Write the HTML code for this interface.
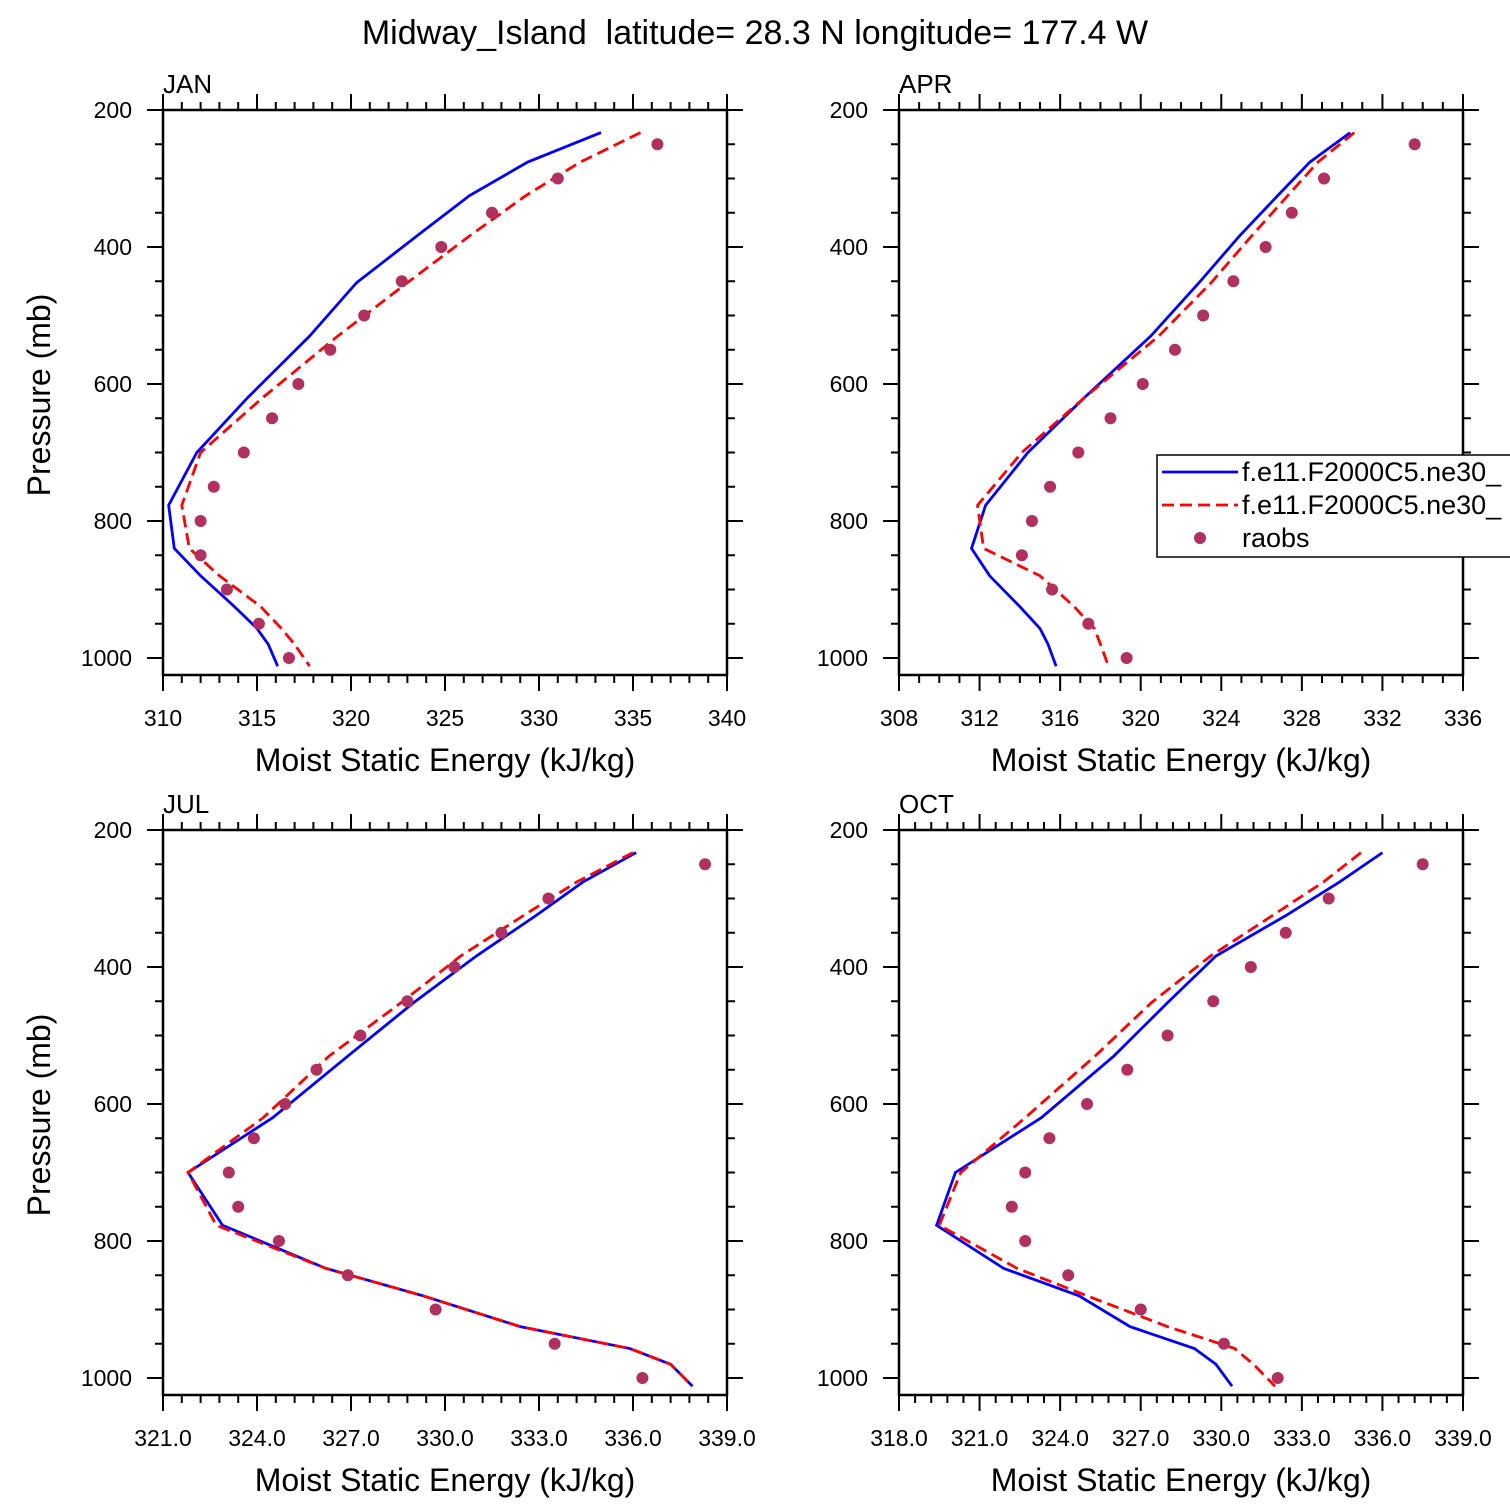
<!DOCTYPE html>
<html><head><meta charset="utf-8"><style>
body{margin:0;background:#fff}
svg{display:block;font-family:"Liberation Sans",sans-serif}
</style></head><body>
<svg id="fig" width="1510" height="1510" viewBox="0 0 1510 1510">
<text x="755" y="44" font-size="34" text-anchor="middle" style="white-space:pre">Midway_Island  latitude= 28.3 N longitude= 177.4 W</text>
</svg>
<script>
const levels=[233,276,325,384,452,530,620,700,777,840,880,925,957,980,1012];
const obsLevels=[250,300,350,400,450,500,550,600,650,700,750,800,850,900,950,1000];
const janBlue=[333.3,329.4,326.3,323.5,320.3,317.8,314.5,311.8,310.3,310.6,312.0,313.8,315.0,315.6,316.1];
const janRed=[335.4,332.2,329.3,326.3,323.0,319.3,315.3,312.0,311.0,311.4,313.0,315.2,316.3,317.0,317.8];
const janObs=[336.3,331.0,327.5,324.8,322.7,320.7,318.9,317.2,315.8,314.3,312.7,312.0,312.0,313.4,315.1,316.7];
const aprBlue=[330.4,328.4,326.8,324.9,322.9,320.5,317.2,314.4,312.3,311.6,312.5,314.0,315.0,315.4,315.8];
const aprRed=[330.6,328.8,327.3,325.5,323.5,320.9,317.2,314.1,311.9,312.2,315.0,316.7,317.7,318.0,318.4];
const aprObs=[333.6,329.1,327.5,326.2,324.6,323.1,321.7,320.1,318.5,316.9,315.5,314.6,314.1,315.6,317.4,319.3];
const julBlue=[336.1,334.4,332.9,331.0,329.0,326.9,324.5,321.8,322.9,326.2,329.3,332.4,335.9,337.2,337.9];
const julRed=[336.0,334.2,332.5,330.5,328.6,326.3,324.2,321.8,322.7,326.2,329.3,332.4,335.9,337.2,337.9];
const julObs=[338.3,333.3,331.8,330.3,328.8,327.3,325.9,324.9,323.9,323.1,323.4,324.7,326.9,329.7,333.5,336.3];
const octBlue=[336.0,334.4,332.4,329.8,328.0,326.0,323.3,320.1,319.4,321.9,324.7,326.6,329.0,329.8,330.4];
const octRed=[335.2,333.8,331.9,329.6,327.4,325.3,322.7,320.3,319.5,322.4,325.0,328.0,330.5,331.2,332.0];
const octObs=[337.5,334.0,332.4,331.1,329.7,328.0,326.5,325.0,323.6,322.7,322.2,322.7,324.3,327.0,330.1,332.1];
const yTicks=[200,400,600,800,1000];
const janX=[310,315,320,325,330,335,340];
const aprX=[308,312,316,320,324,328,332,336];
const julX=[321,324,327,330,333,336,339];
const octX=[318,321,324,327,330,333,336,339];

const NS="http://www.w3.org/2000/svg";
const svg=document.getElementById('fig');
function mk(tag,attrs,parent){const e=document.createElementNS(NS,tag);for(const k in attrs)e.setAttribute(k,attrs[k]);(parent||svg).appendChild(e);return e;}

const panels=[
 {name:'jan',label:'JAN',x0:163,y0:110,xt:janX,minor:5,dec:0,blue:janBlue,red:janRed,obs:janObs,ylab:true},
 {name:'apr',label:'APR',x0:899,y0:110,xt:aprX,minor:4,dec:0,blue:aprBlue,red:aprRed,obs:aprObs,ylab:false,legend:true},
 {name:'jul',label:'JUL',x0:163,y0:830,xt:julX,minor:5,dec:1,blue:julBlue,red:julRed,obs:julObs,ylab:true},
 {name:'oct',label:'OCT',x0:899,y0:830,xt:octX,minor:5,dec:1,blue:octBlue,red:octRed,obs:octObs,ylab:false}
];
const W=564, H=565;
panels.forEach(p=>{
 const g=mk('g',{});
 
 
 const xmin=p.xt[0], xmax=p.xt[p.xt.length-1];
 const X=v=>p.x0+(v-xmin)/(xmax-xmin)*W;
 const Y=v=>p.y0+(v-200)/800*548;
 const clipId='clip-'+p.name;
 const cp=mk('clipPath',{id:clipId},g);mk('rect',{x:p.x0,y:p.y0,width:W,height:H},cp);
 const tk=mk('g',{stroke:'#000','stroke-width':2},g);
 
 
 for(let v=200;v<=1025;v+=50){
   const major=yTicks.includes(v);const L=major?16:8;const y=Y(v);
   mk('line',{x1:p.x0-L,x2:p.x0,y1:y,y2:y},tk);
   mk('line',{x1:p.x0+W,x2:p.x0+W+L,y1:y,y2:y},tk);
 }
 const step=p.xt[1]-p.xt[0];
 for(let i=0;i<p.xt.length;i++){
   for(let j=0;j<p.minor;j++){
     const v=p.xt[i]+j*step/p.minor; if(v>xmax+1e-9)break;
     const L=j==0?16:8;const x=X(v);
     mk('line',{x1:x,x2:x,y1:p.y0-L,y2:p.y0},tk);
     mk('line',{x1:x,x2:x,y1:p.y0+H,y2:p.y0+H+L},tk);
   }
 }
 mk('rect',{x:p.x0,y:p.y0,width:W,height:H,fill:'none',stroke:'#000','stroke-width':2.5},g);
 yTicks.forEach(v=>{const t=mk('text',{x:p.x0-31,y:Y(v)+8,'font-size':23,'text-anchor':'end'},g);t.textContent=v;
   });
 p.xt.forEach(v=>{const t=mk('text',{x:X(v),y:p.y0+H+51,'font-size':23,'text-anchor':'middle'},g);t.textContent=v.toFixed(p.dec);
   });
 const pl=mk('text',{x:p.x0,y:p.y0-17,'font-size':26},g);pl.textContent=p.label;
 
 const xl=mk('text',{x:p.x0+W/2,y:p.y0+H+96,'font-size':32,'text-anchor':'middle'},g);xl.textContent='Moist Static Energy (kJ/kg)';
 
 if(p.ylab){const yl=mk('text',{x:0,y:0,'font-size':32,'text-anchor':'middle',transform:`translate(50,${p.y0+285}) rotate(-90)`},g);yl.textContent='Pressure (mb)';
   }
 const dg=mk('g',{'clip-path':`url(#${clipId})`},g);
 const pts=a=>a.map((v,i)=>X(v)+','+Y(levels[i])).join(' ');
 const bl=mk('polyline',{points:pts(p.blue),fill:'none',stroke:'#0000ff','stroke-width':2.8},dg);
 
 const rl=mk('polyline',{points:pts(p.red),fill:'none',stroke:'#ff0000','stroke-width':2.8,'stroke-dasharray':'12,6'},dg);
 
 p.obs.forEach((v,i)=>{const c=mk('circle',{cx:X(v),cy:Y(obsLevels[i]),r:6,fill:'#b03060'},dg);
   });
 if(p.legend){
   const lg=mk('g',{},svg);
   
   mk('rect',{x:1157,y:455,width:360,height:102,fill:'#fff',stroke:'#000','stroke-width':1.5},lg);
   mk('line',{x1:1162,x2:1238,y1:472,y2:472,stroke:'#0000ff','stroke-width':2.8},lg);
   mk('line',{x1:1162,x2:1238,y1:505,y2:505,stroke:'#ff0000','stroke-width':2.8,'stroke-dasharray':'12,6'},lg);
   mk('circle',{cx:1200,cy:538,r:6,fill:'#b03060'},lg);
   const names=['f.e11.F2000C5.ne30_','f.e11.F2000C5.ne30_','raobs'];
   names.forEach((n,i)=>{const t=mk('text',{x:1242,y:481+i*33,'font-size':27},lg);t.textContent=n;
     });
 }
});
</script>
</body></html>
